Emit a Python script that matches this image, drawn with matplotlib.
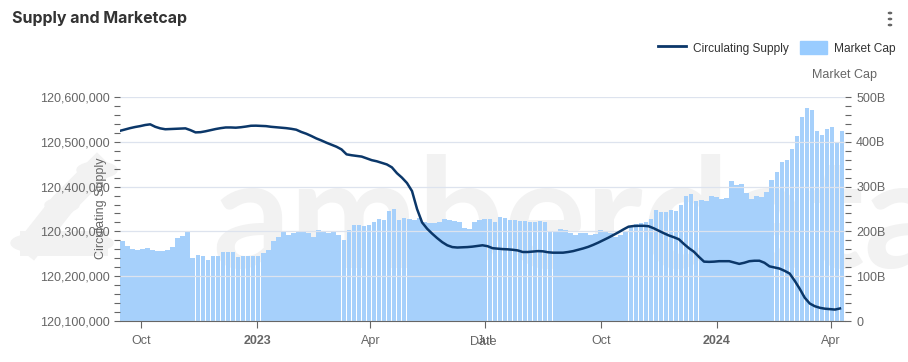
import matplotlib
matplotlib.use("Agg")
from matplotlib import pyplot as plt
from matplotlib.lines import Line2D
from matplotlib.patches import Patch, Circle
from matplotlib.ticker import FuncFormatter, MultipleLocator
import pandas as pd

plt.rcParams['font.family'] = ['Liberation Sans', 'DejaVu Sans']

# data, one sample every 4 days starting 2022-09-14
start_date = "2022-09-14"
step_days = 4

market_cap_b = [
    179, 168, 161, 158, 161, 162, 158, 156, 157, 158,
    165, 186, 190, 198, 140, 147, 145, 136, 144, 145,
    155, 155, 153, 142, 146, 146, 145, 144, 151, 158,
    178, 188, 198, 192, 197, 199, 199, 197, 188, 203,
    200, 196, 198, 192, 180, 203, 214, 214, 211, 214,
    220, 227, 225, 245, 250, 226, 229, 228, 225, 230,
    220, 218, 218, 221, 227, 225, 223, 220, 208, 205,
    220, 225, 228, 228, 222, 233, 230, 225, 225, 224,
    224, 222, 222, 223, 222, 202, 201, 205, 204, 196,
    193, 196, 197, 192, 195, 204, 202, 196, 188, 191,
    202, 212, 216, 218, 220, 228, 248, 243, 243, 247,
    245, 258, 278, 283, 268, 270, 268, 279, 277, 272,
    275, 312, 304, 306, 285, 272, 278, 276, 288, 315,
    333, 355, 359, 385, 412, 455, 475, 470, 425, 415,
    428, 432, 398, 425,
]

circulating_supply = [
    120524500, 120527500, 120530500, 120533000, 120535000, 120537500, 120539000, 120533500, 120530000, 120528000,
    120528500, 120529000, 120529500, 120530000, 120526000, 120521000, 120521500, 120523500, 120526000, 120528500,
    120530500, 120532000, 120532000, 120531500, 120532500, 120534000, 120535800, 120536000, 120535500, 120535000,
    120533500, 120532400, 120531500, 120530500, 120529000, 120527000, 120522000, 120518000, 120513000, 120507500,
    120503000, 120498000, 120493500, 120489000, 120483000, 120472000, 120470000, 120468500, 120467000, 120463000,
    120459000, 120456500, 120453000, 120449500, 120443000, 120430000, 120420000, 120408000, 120390000, 120350000,
    120320000, 120306000, 120295000, 120285000, 120276000, 120269000, 120265000, 120264000, 120264500, 120265000,
    120266000, 120267500, 120269000, 120267000, 120262500, 120261500, 120260500, 120260000, 120259000, 120257500,
    120254000, 120254000, 120255000, 120256000, 120255500, 120253500, 120252500, 120252500, 120252500, 120254000,
    120256000, 120259000, 120262000, 120265500, 120270000, 120275000, 120280500, 120286000, 120292000, 120298000,
    120304500, 120310500, 120312000, 120312500, 120312500, 120311500, 120307000, 120301500, 120296000, 120291000,
    120287000, 120282500, 120272000, 120262500, 120254500, 120243000, 120232500, 120232000, 120232500, 120233500,
    120233500, 120233500, 120230500, 120227500, 120230000, 120233500, 120234500, 120234500, 120230000, 120222000,
    120219500, 120217000, 120212000, 120206000, 120190000, 120172000, 120152000, 120139000, 120133000, 120129500,
    120127500, 120126500, 120125500, 120128000,
]

tick_dates = ["2022-10-01", "2023-01-01", "2023-04-01", "2023-07-01",
              "2023-10-01", "2024-01-01", "2024-04-01"]
tick_labels = ["Oct", "2023", "Apr", "Jul", "Oct", "2024", "Apr"]

dates = pd.date_range(start_date, periods=len(market_cap_b), freq=f"{step_days}D")

bar_color = "#a6d0fb"
line_color = "#0b3769"
grey = "#666666"
wm = "#f2f2f2"

fig = plt.figure(figsize=(9.08, 3.62), dpi=100)
fig.patch.set_facecolor("white")

# faint watermark behind the plot
fig.text(212 / 908, 1 - 268 / 362, "amberdata", fontsize=110, color=wm,
         family="Lato", fontweight="bold", zorder=0, va="baseline")
for cx, cy, r in [(32, 243, 21), (62, 205, 17), (97, 170, 20), (95, 243, 18)]:
    fig.patches.append(Circle((cx / 908, 1 - cy / 362), r / 908, transform=fig.transFigure,
                              color=wm, zorder=0))
fig.lines.append(Line2D([32 / 908, 62 / 908, 97 / 908], [1 - 243 / 362, 1 - 205 / 362, 1 - 170 / 362],
                        transform=fig.transFigure, color=wm, lw=18, zorder=0))
fig.lines.append(Line2D([32 / 908, 95 / 908], [1 - 243 / 362, 1 - 243 / 362],
                        transform=fig.transFigure, color=wm, lw=18, zorder=0))

ax = fig.add_axes([120 / 908, 1 - 321 / 362, 725 / 908, 224 / 362])
ax.set_zorder(2)
ax.patch.set_alpha(0)
ax.bar(dates, market_cap_b, width=step_days * 0.9, align="edge", color=bar_color, zorder=1)
ax.set_ylim(0, 500)
ax.yaxis.set_major_locator(MultipleLocator(100))
ax.yaxis.set_minor_locator(MultipleLocator(20))
ax.yaxis.set_major_formatter(FuncFormatter(lambda v, p: "0" if v == 0 else f"{v:.0f}B"))
ax.grid(axis="y", color="#dde3ee", lw=0.9)
ax.set_axisbelow("line")

tw = ax.twinx()
tw.set_zorder(3)
tw.patch.set_alpha(0)
tw.plot(dates, circulating_supply, color=line_color, lw=1.8, zorder=3)
tw.set_ylim(120100000, 120600000)
tw.yaxis.set_major_locator(MultipleLocator(100000))
tw.yaxis.set_minor_locator(MultipleLocator(20000))
tw.yaxis.set_major_formatter(FuncFormatter(lambda v, p: f"{v:,.0f}"))

# bars' axis on the right, supply axis on the left
ax.yaxis.tick_right()
ax.yaxis.set_label_position("right")
tw.yaxis.tick_left()
tw.yaxis.set_label_position("left")

ax.set_xlim(pd.Timestamp("2022-09-14"), pd.Timestamp("2024-04-12"))
ax.set_xticks([pd.Timestamp(d) for d in tick_dates])
ax.set_xticklabels(tick_labels)
for lab in ax.get_xticklabels():
    if lab.get_text().isdigit():
        lab.set_fontweight("bold")

for a in (ax, tw):
    for s in ("top", "left", "right"):
        a.spines[s].set_visible(False)
    a.tick_params(axis="y", which="both", colors=grey, labelsize=9, length=4, width=0.8)
ax.spines["bottom"].set_color(grey)
tw.spines["bottom"].set_visible(False)
ax.tick_params(axis="x", colors=grey, labelsize=9, length=5, width=0.8, pad=5)
ax.tick_params(axis="y", which="both", pad=4)

fig.text(12 / 908, 1 - 19 / 362, "Supply and Marketcap", fontsize=11.5, fontweight="bold",
         color="#333333", va="center", family="Inter")
fig.text(845 / 908, 1 - 75 / 362, "Market Cap", fontsize=9, color=grey, ha="center", va="center")
fig.text(101 / 908, 1 - 208 / 362, "Circulating Supply", fontsize=9, color=grey, rotation=90,
         ha="center", va="center", zorder=5)
fig.text(483 / 908, 1 - 342 / 362, "Date", fontsize=9, color=grey, ha="center", va="center")

# menu dots
for yy in (13, 19, 25):
    fig.patches.append(Circle((890 / 908, 1 - yy / 362), 1.6 / 908, transform=fig.transFigure,
                              color="#666666"))

handles = [Line2D([], [], color=line_color, lw=2), Patch(color="#99ccff")]
fig.legend(handles, ["Circulating Supply", "Market Cap"], loc="center right",
           bbox_to_anchor=(896 / 908, 1 - 48 / 362), ncol=2, frameon=False, fontsize=8.6,
           handlelength=2.3, handleheight=1.3, handletextpad=0.6, columnspacing=0.9,
           borderpad=0, borderaxespad=0, labelcolor="#333333")

fig.savefig("out.png", dpi=100)
